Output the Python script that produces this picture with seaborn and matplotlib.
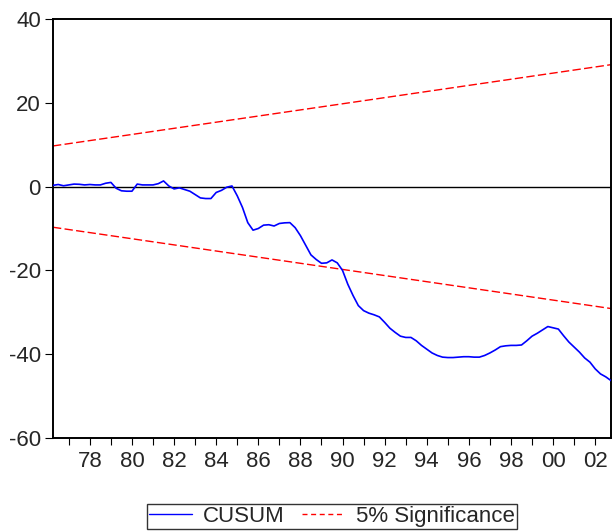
import numpy as np
import pandas as pd
import matplotlib
matplotlib.use("Agg")
import matplotlib.pyplot as plt
import seaborn as sns

# Quarterly sample covered by the recursive residuals
first_quarter = "1976Q2"
last_quarter = "2002Q4"

# CUSUM statistic, one value per quarter
cusum = [
    0.3, 0.5, 0.2, 0.4, 0.6, 0.55, 0.4, 0.5, 0.4, 0.4,
    0.8, 1.0, -0.4, -1.0, -1.1, -1.1, 0.6, 0.4, 0.4, 0.4,
    0.7, 1.35, 0.15, -0.55, -0.3, -0.7, -1.1, -1.9, -2.7, -2.85,
    -2.85, -1.4, -0.9, -0.15, 0.15, -2.2, -5.0, -8.6, -10.4, -10.0,
    -9.2, -9.1, -9.4, -8.8, -8.65, -8.6, -9.8, -11.7, -14.0, -16.3,
    -17.4, -18.3, -18.2, -17.5, -18.2, -20.0, -23.3, -26.0, -28.4, -29.6,
    -30.2, -30.6, -31.1, -32.4, -33.8, -34.8, -35.7, -36.0, -36.0, -36.8,
    -37.9, -38.8, -39.7, -40.3, -40.7, -40.8, -40.8, -40.7, -40.6, -40.6,
    -40.7, -40.7, -40.3, -39.7, -39.0, -38.2, -38.0, -37.9, -37.9, -37.8,
    -36.8, -35.7, -35.0, -34.2, -33.4, -33.7, -34.0, -35.6, -37.1, -38.3,
    -39.5, -40.9, -41.9, -43.5, -44.7, -45.4, -46.3,
]

# 5% significance bounds at the first and last quarter (straight lines)
sig_upper = [9.7, 29.1]
sig_lower = [-9.7, -29.1]

y_ticks = [-60, -40, -20, 0, 20, 40]
label_years = list(range(1978, 2003, 2))

sns.set_theme(style="white")
plt.rcParams["font.family"] = ["Liberation Sans", "DejaVu Sans"]

periods = pd.period_range(first_quarter, last_quarter, freq="Q")
t = periods.year + (periods.quarter - 1) / 4.0
df = pd.DataFrame({"t": t, "cusum": cusum})
t_ends = [t[0], t[-1]]

W, H = 612, 531
fig = plt.figure(figsize=(W / 100, H / 100), dpi=100)
fig.patch.set_facecolor("white")
left, right, top, bottom = 53, 611, 19, 438
ax = fig.add_axes([left / W, 1 - bottom / H, (right - left) / W, (bottom - top) / H])

ax.axhline(0, color="black", lw=1.0, zorder=1)

dash = (0, (6.0, 2.4))
sns.lineplot(data=df, x="t", y="cusum", ax=ax, color="#0000FF", lw=1.2,
             zorder=3)
sns.lineplot(x=t_ends, y=sig_upper, ax=ax, color="#FF0000", lw=1.0,
             linestyle=dash, zorder=2)
sns.lineplot(x=t_ends, y=sig_lower, ax=ax, color="#FF0000", lw=1.0,
             linestyle=dash, zorder=2)

ax.set_xlim(t[0], t[-1])
ax.set_ylim(-60, 40)
ax.set_xlabel("")
ax.set_ylabel("")

years = list(range(1977, 2003))
ax.set_xticks(years)
ax.set_xticklabels([f"{y % 100:02d}" if y in label_years else "" for y in years])
ax.set_yticks(y_ticks)
ax.set_yticklabels([str(v) for v in y_ticks])

ax.tick_params(axis="x", which="major", direction="out", length=5.0, width=0.8,
               color="black", labelsize=16, pad=4.5, bottom=True, top=False)
ax.tick_params(axis="y", which="major", direction="out", length=5.8, width=0.8,
               color="black", labelsize=16, pad=3, left=True, right=False)
for side in ["left", "right", "top", "bottom"]:
    ax.spines[side].set_visible(True)
    ax.spines[side].set_color("black")
    ax.spines[side].set_linewidth(1.4)
ax.grid(False)

h_cusum = plt.Line2D([], [], color="#0000FF", lw=1.0)
h_sig = plt.Line2D([], [], color="#FF0000", lw=1.0, linestyle=(0, (3.6, 2.6)))
leg = fig.legend([h_cusum, h_sig], ["CUSUM", "5% Significance"],
                 loc="lower center", bbox_to_anchor=(332 / W, 2 / H), ncol=2,
                 fontsize=16, frameon=True, fancybox=False, shadow=False,
                 handlelength=1.9, handletextpad=0.5, columnspacing=0.8,
                 borderpad=0.1, borderaxespad=0.0)
leg.get_frame().set_edgecolor("black")
leg.get_frame().set_linewidth(1.0)
leg.get_frame().set_facecolor("white")

fig.savefig("out.png", dpi=100, facecolor="white")
